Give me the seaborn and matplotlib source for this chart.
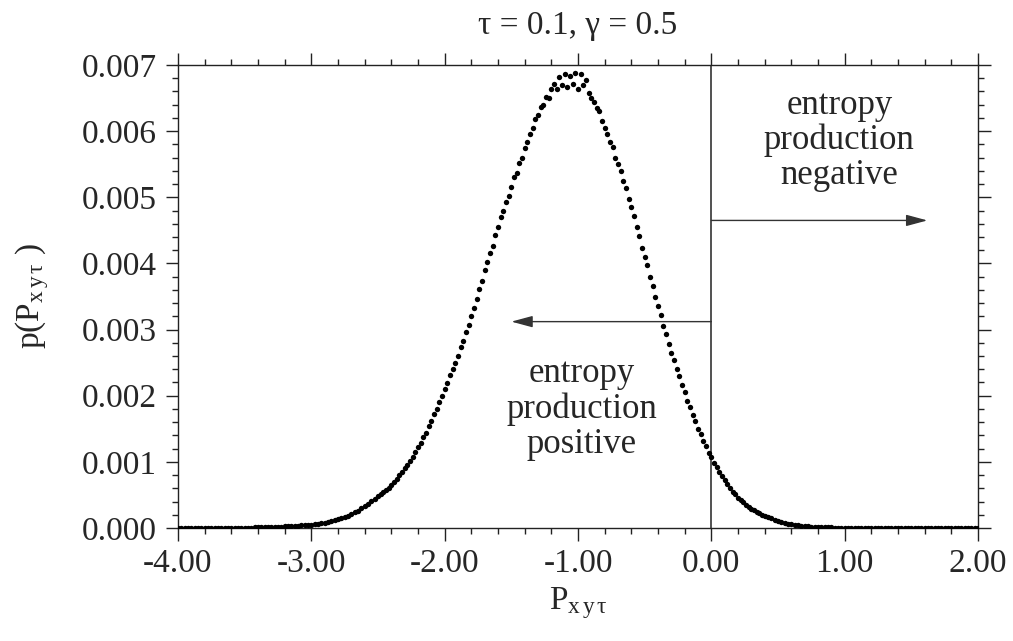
#!/usr/bin/env python3
"""
Distribution of P_xyt (tau = 0.1, gamma = 0.5), scatter of histogram points
"""

import numpy as np
import pandas as pd
import matplotlib
matplotlib.use('Agg')
import matplotlib.pyplot as plt
from matplotlib.ticker import MultipleLocator, FormatStrFormatter
import seaborn as sns

# ---- data (p values in units of 1e-3) ----
# left tail, x = -4.000 ... -2.525 step 0.025
tail_left_x = (-4.000, -2.525, 60)
tail_left_p = [
    0.000, 0.002, 0.000, 0.001, 0.000, 0.002, 0.001, 0.000, 0.002, 0.001,
    0.003, 0.001, 0.002, 0.003, 0.002, 0.004, 0.003, 0.004, 0.005, 0.004,
    0.005, 0.006, 0.007, 0.008, 0.009, 0.010, 0.012, 0.013, 0.015, 0.018,
    0.020, 0.022, 0.025, 0.027, 0.030, 0.033, 0.037, 0.041, 0.044, 0.048,
    0.050, 0.057, 0.062, 0.071, 0.080, 0.092, 0.106, 0.120, 0.140, 0.152,
    0.170, 0.188, 0.210, 0.236, 0.262, 0.300, 0.330, 0.368, 0.405, 0.445,
]

# core, x = -2.50 ... 0.40 step 0.02
core_x = (-2.50, 0.40, 146)
core_p = [
    0.48, 0.51, 0.55, 0.57, 0.61, 0.65, 0.70, 0.74, 0.80, 0.84,
    0.90, 0.95, 1.02, 1.07, 1.15, 1.22, 1.29, 1.38, 1.44, 1.54,
    1.62, 1.72, 1.80, 1.91, 1.99, 2.10, 2.19, 2.31, 2.40, 2.49,
    2.60, 2.73, 2.82, 2.96, 3.07, 3.20, 3.33, 3.46, 3.62, 3.74,
    3.90, 4.02, 4.16, 4.27, 4.43, 4.55, 4.70, 4.80, 4.93, 5.02,
    5.15, 5.30, 5.37, 5.52, 5.60, 5.75, 5.83, 5.96, 6.04, 6.18,
    6.25, 6.37, 6.40, 6.52, 6.50, 6.64, 6.72, 6.63, 6.82, 6.70,
    6.86, 6.66, 6.84, 6.72, 6.88, 6.64, 6.86, 6.70, 6.78, 6.58,
    6.50, 6.44, 6.35, 6.30, 6.16, 6.05, 5.96, 5.84, 5.76, 5.60,
    5.50, 5.39, 5.24, 5.14, 4.98, 4.85, 4.72, 4.55, 4.42, 4.24,
    4.10, 3.97, 3.80, 3.66, 3.49, 3.35, 3.22, 3.06, 2.93, 2.78,
    2.65, 2.54, 2.40, 2.30, 2.16, 2.05, 1.92, 1.83, 1.71, 1.62,
    1.50, 1.42, 1.31, 1.24, 1.14, 1.07, 0.99, 0.92, 0.85, 0.78,
    0.72, 0.66, 0.61, 0.55, 0.51, 0.46, 0.43, 0.39, 0.35, 0.32,
    0.29, 0.27, 0.24, 0.22, 0.20, 0.18,
]

# right tail, x = 0.425 ... 2.000 step 0.025
tail_right_x = (0.425, 2.000, 64)
tail_right_p = [
    0.165, 0.145, 0.120, 0.100, 0.090, 0.078, 0.066, 0.055, 0.048, 0.040,
    0.035, 0.030, 0.025, 0.021, 0.018, 0.015, 0.012, 0.010, 0.009, 0.008,
    0.006, 0.005, 0.005, 0.004, 0.003, 0.004, 0.003, 0.002, 0.003, 0.002,
    0.002, 0.001, 0.002, 0.001, 0.002, 0.001, 0.000, 0.001, 0.001, 0.000,
    0.001, 0.000, 0.001, 0.000, 0.000, 0.001, 0.000, 0.000, 0.001, 0.000,
    0.000, 0.000, 0.001, 0.000, 0.000, 0.000, 0.000, 0.001, 0.000, 0.000,
    0.000, 0.000, 0.000, 0.000,
]

title = 'τ = 0.1, γ = 0.5'
label_neg = 'entropy\nproduction\nnegative'
label_pos = 'entropy\nproduction\npositive'
x_ticks = [-4, -3, -2, -1, 0, 1, 2]


def segment(grid, values):
    start, stop, n = grid
    assert len(values) == n
    return pd.DataFrame({'x': np.linspace(start, stop, n), 'p': np.array(values) * 1e-3})


df = pd.concat([segment(tail_left_x, tail_left_p),
                segment(core_x, core_p),
                segment(tail_right_x, tail_right_p)], ignore_index=True)

# ---- style ----
sns.set_style('ticks')
plt.rcParams['font.family'] = ['Liberation Serif', 'DejaVu Serif']
plt.rcParams['mathtext.fontset'] = 'custom'
plt.rcParams['mathtext.rm'] = 'Liberation Serif'
plt.rcParams['mathtext.it'] = 'Liberation Serif:italic'
plt.rcParams['axes.unicode_minus'] = False

fig = plt.figure(figsize=(10.13, 6.41), dpi=100)
ax = fig.add_axes([0.1757, 0.1763, 0.7898, 0.7223])

sns.scatterplot(data=df, x='x', y='p', ax=ax, color='black', s=15,
                edgecolor=None, linewidth=0, legend=False, zorder=3)

ax.axvline(0, color='#222222', lw=1.1, zorder=2)

arrow = dict(arrowstyle='-|>,head_length=1.3,head_width=0.35', color='#333333',
             lw=1.0, shrinkA=0, shrinkB=0)
ax.annotate('', xy=(1.62, 0.00465), xytext=(0.0, 0.00465), arrowprops=arrow)
ax.annotate('', xy=(-1.50, 0.00312), xytext=(0.0, 0.00312), arrowprops=arrow)

ax.text(0.96, 0.00586, label_neg, ha='center', va='center', fontsize=25,
        linespacing=1.08)
ax.text(-0.97, 0.00180, label_pos, ha='center', va='center', fontsize=25,
        linespacing=1.08)

ax.set_xlim(-4, 2)
ax.set_ylim(0, 0.007)
ax.set_xticks(x_ticks)
ax.xaxis.set_major_formatter(FormatStrFormatter('%.2f'))
ax.xaxis.set_minor_locator(MultipleLocator(0.2))
ax.yaxis.set_major_locator(MultipleLocator(0.001))
ax.yaxis.set_major_formatter(FormatStrFormatter('%.3f'))
ax.yaxis.set_minor_locator(MultipleLocator(0.0002))

ax.tick_params(which='both', direction='out', top=True, right=True,
               labeltop=False, labelright=False, color='#222222', width=1.0,
               labelsize=24, pad=6)
ax.tick_params(which='major', length=9)
ax.tick_params(which='minor', length=4.5)
for s in ax.spines.values():
    s.set_color('#222222')
    s.set_linewidth(1.0)
    s.set_visible(True)

ax.set_title(title, fontsize=24, pad=22)
ax.set_xlabel(r'P$_{\mathrm{x\,y\,τ}}$', fontsize=24, labelpad=4)
ax.set_ylabel(r'p(P$_{\mathrm{x\,y\,τ}}$ )', fontsize=24, labelpad=22)

fig.savefig('out.png', dpi=100)
